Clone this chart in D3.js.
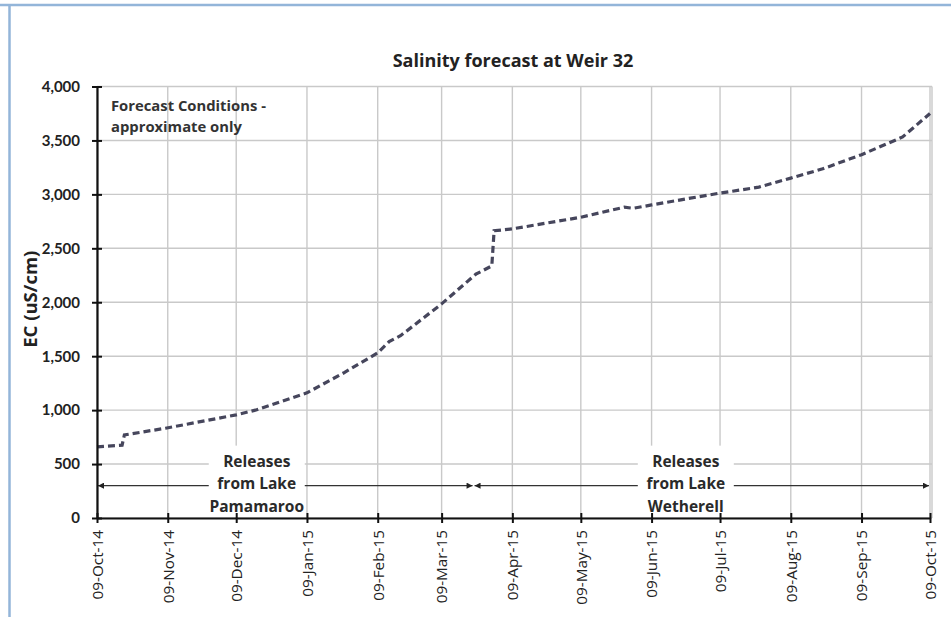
<!DOCTYPE html>
<html lang="en">
  <head>
    <meta charset="utf-8" />
    <title>Salinity forecast at Weir 32</title>
    <script type="text/javascript" src="https://cdn.jsdelivr.net/npm/d3@7/dist/d3.min.js"></script>
    <style>
      body { margin: 0; background: #fff; }
      svg { display: block; font-family: "Open Sans", Lato, sans-serif; }
    </style>
  </head>

  <body>
    <script>
      // values
      var dates = ["2014-10-09", "2014-10-20", "2014-10-21", "2014-11-08", "2014-12-09", "2014-12-18",
                   "2015-01-09", "2015-01-25", "2015-02-09", "2015-02-14", "2015-02-19", "2015-03-09",
                   "2015-03-24", "2015-03-31", "2015-04-01", "2015-04-09", "2015-05-09", "2015-05-28",
                   "2015-06-01", "2015-06-09", "2015-06-26", "2015-07-09", "2015-07-26", "2015-08-09",
                   "2015-08-23", "2015-09-09", "2015-09-27", "2015-10-09"]
      var ec = [660, 675, 770, 832, 956, 1003,
                1160, 1344, 1531, 1635, 1690, 1985,
                2260, 2337, 2663, 2680, 2788, 2881,
                2871, 2902, 2965, 3012, 3067, 3151,
                3237, 3368, 3532, 3750]
      var monthTicks = ["2014-10-09", "2014-11-09", "2014-12-09", "2015-01-09", "2015-02-09", "2015-03-09",
                        "2015-04-09", "2015-05-09", "2015-06-09", "2015-07-09", "2015-08-09", "2015-09-09",
                        "2015-10-09"]
      var ecTicks = [0, 500, 1000, 1500, 2000, 2500, 3000, 3500, 4000]
      var releaseLabels = [["Releases", "from Lake", "Pamamaroo"], ["Releases", "from Lake", "Wetherell"]]
      var releaseSpans = [["2014-10-09", "2015-03-23"], ["2015-03-23", "2015-10-09"]]
      var releaseLevel = 300

      var parse = d3.timeParse("%Y-%m-%d")
      var data = dates.map(function(d, i) { return {date: parse(d), ec: ec[i]} })

      var W = 951, H = 617
      var margin = {top: 86.5, right: 21, bottom: 99, left: 97}
      var width = W - margin.left - margin.right
      var height = H - margin.top - margin.bottom

      var svg = d3.select("body").append("svg")
                  .attr("width", W)
                  .attr("height", H)

      // frame edges of the screenshot
      svg.append("line").attr("x1", 0).attr("x2", W).attr("y1", 5).attr("y2", 5)
         .attr("stroke", "#93b5d9").attr("stroke-width", 2.5)
      svg.append("line").attr("x1", 9.5).attr("x2", 9.5).attr("y1", 5).attr("y2", H)
         .attr("stroke", "#93b5d9").attr("stroke-width", 2.5)

      var g = svg.append("g")
                 .attr("transform", "translate(" + margin.left + "," + margin.top + ")")

      var xScale = d3.scaleTime()
                     .range([0, width])
                     .domain([parse(monthTicks[0]), parse(monthTicks[monthTicks.length - 1])])
      var yScale = d3.scaleLinear()
                     .range([height, 0])
                     .domain([0, 4000])

      // grid
      g.append("g").selectAll("line")
       .data(ecTicks).enter().append("line")
         .attr("x1", 0).attr("x2", width + 2)
         .attr("y1", function(d) { return yScale(d) })
         .attr("y2", function(d) { return yScale(d) })
         .attr("stroke", "#c9c9c9").attr("stroke-width", 1.4)
      g.append("g").selectAll("line")
       .data(monthTicks).enter().append("line")
         .attr("x1", function(d) { return xScale(parse(d)) })
         .attr("x2", function(d) { return xScale(parse(d)) })
         .attr("y1", 0).attr("y2", height)
         .attr("stroke", "#c9c9c9").attr("stroke-width", 1.4)
      g.append("line").attr("x1", width + 2).attr("x2", width + 2).attr("y1", 0).attr("y2", height)
       .attr("stroke", "#c9c9c9").attr("stroke-width", 1.4)

      // release arrows
      var defs = svg.append("defs")
      defs.append("marker").attr("id", "head").attr("viewBox", "0 0 10 10")
          .attr("refX", 10).attr("refY", 5).attr("markerWidth", 7).attr("markerHeight", 6)
          .attr("markerUnits", "userSpaceOnUse").attr("orient", "auto-start-reverse")
        .append("path").attr("d", "M0,0L10,5L0,10z").attr("fill", "#222")

      releaseSpans.forEach(function(s) {
        g.append("line")
         .attr("x1", xScale(parse(s[0])) + 1).attr("x2", xScale(parse(s[1])) - 1)
         .attr("y1", yScale(releaseLevel)).attr("y2", yScale(releaseLevel))
         .attr("stroke", "#333").attr("stroke-width", 1.2)
         .attr("marker-start", "url(#head)").attr("marker-end", "url(#head)")
      })

      var labelCentre = [xScale(parse("2014-12-18")), xScale(parse("2015-06-24"))]
      releaseLabels.forEach(function(lines, i) {
        var cx = labelCentre[i]
        g.append("rect")
         .attr("x", cx - 48).attr("y", yScale(releaseLevel) - 40)
         .attr("width", 96).attr("height", height - yScale(releaseLevel) + 39)
         .attr("fill", "#fff")
        lines.forEach(function(t, j) {
          g.append("text")
           .attr("x", cx).attr("y", yScale(releaseLevel) - 19 + j * 22.5)
           .attr("text-anchor", "middle")
           .style("font-size", "15.5px").style("font-weight", "bold").style("fill", "#2a2a2a")
           .text(t)
        })
      })

      // forecast line
      var line = d3.line()
                   .x(function(d) { return xScale(d.date) })
                   .y(function(d) { return yScale(d.ec) })
      g.append("path")
       .datum(data)
       .attr("d", line)
       .attr("fill", "none")
       .attr("stroke", "#46465c")
       .attr("stroke-width", 3.2)
       .attr("stroke-dasharray", "7,4")

      // axes
      var yAxis = g.append("g")
                   .call(d3.axisLeft(yScale)
                           .tickValues(ecTicks)
                           .tickFormat(d3.format(","))
                           .tickSizeInner(5).tickSizeOuter(0).tickPadding(12))
      yAxis.select(".domain").attr("stroke", "#111").attr("stroke-width", 2.2)
      yAxis.selectAll(".tick line").attr("x2", 5).attr("x1", -5).attr("stroke", "#111").attr("stroke-width", 2)
      yAxis.selectAll(".tick text").style("font-size", "15px").style("font-weight", "bold")
           .style("font-family", "Lato, sans-serif").attr("fill", "#222")

      var xAxis = g.append("g")
                   .attr("transform", "translate(0," + height + ")")
                   .call(d3.axisBottom(xScale)
                           .tickValues(monthTicks.map(parse))
                           .tickFormat(d3.timeFormat("%d-%b-%y"))
                           .tickSizeInner(5).tickSizeOuter(0))
      xAxis.select(".domain").attr("stroke", "#111").attr("stroke-width", 2.2)
      xAxis.selectAll(".tick line").attr("y1", -5).attr("y2", 5).attr("stroke", "#111").attr("stroke-width", 2)
      xAxis.selectAll(".tick text")
           .attr("transform", "rotate(-90)")
           .attr("x", -12).attr("y", 0).attr("dy", "0.35em")
           .attr("text-anchor", "end")
           .style("font-size", "15.3px").style("font-family", "'Open Sans', sans-serif").attr("fill", "#222")

      // titles
      svg.append("text")
         .attr("x", 513).attr("y", 67)
         .attr("text-anchor", "middle")
         .style("font-size", "18px").style("font-weight", "bold").style("fill", "#222")
         .text("Salinity  forecast at Weir 32")

      svg.append("text")
         .attr("transform", "translate(37," + (margin.top + height / 2 - 3) + ") rotate(-90)")
         .attr("text-anchor", "middle")
         .style("font-size", "18.5px").style("font-weight", "bold").style("fill", "#222")
         .text("EC (uS/cm)")

      g.append("text")
       .attr("x", 14).attr("y", 24)
       .style("font-size", "14.8px").style("font-weight", "bold").style("fill", "#333")
       .text("Forecast Conditions -")
      g.append("text")
       .attr("x", 14).attr("y", 45)
       .style("font-size", "14.8px").style("font-weight", "bold").style("fill", "#333")
       .text("approximate only")
    </script>
  </body>
</html>
